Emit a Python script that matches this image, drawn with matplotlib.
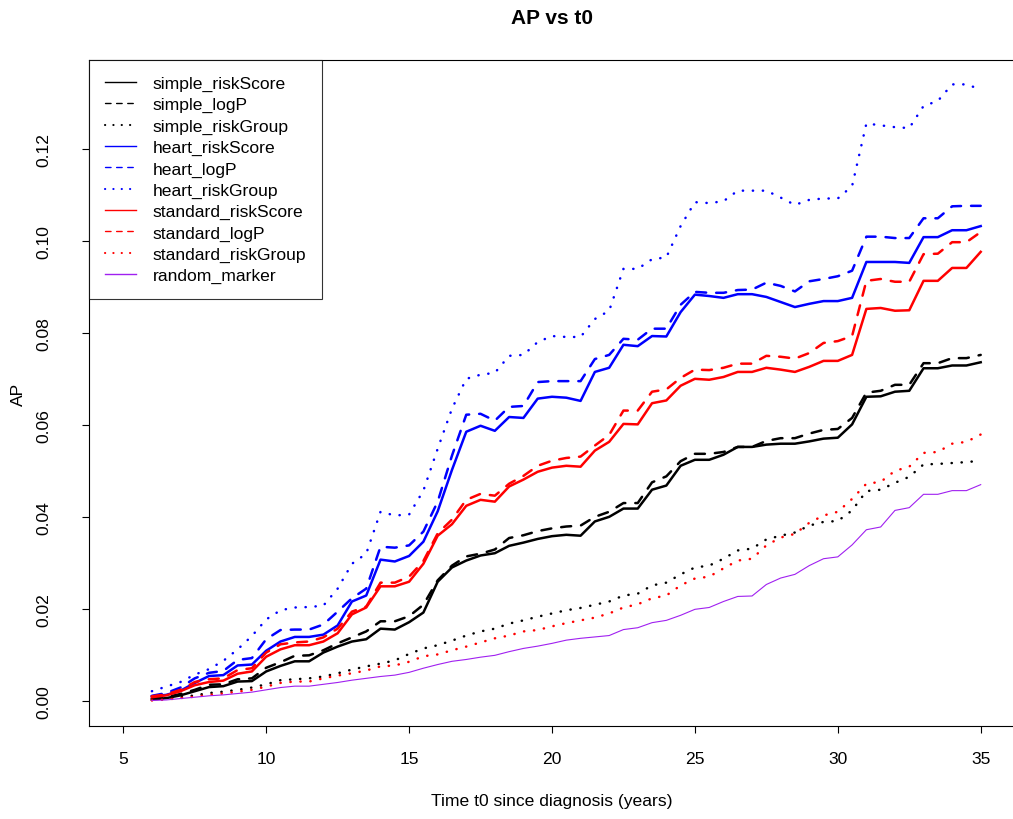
import matplotlib
matplotlib.use("Agg")
import matplotlib.pyplot as plt
from matplotlib.lines import Line2D

plt.rcParams['font.family'] = ['Liberation Sans', 'DejaVu Sans']

# time since diagnosis (years)
t0 = [6.0, 6.5, 7.0, 7.5, 8.0, 8.5, 9.0, 9.5, 10.0, 10.5,
      11.0, 11.5, 12.0, 12.5, 13.0, 13.5, 14.0, 14.5, 15.0, 15.5,
      16.0, 16.5, 17.0, 17.5, 18.0, 18.5, 19.0, 19.5, 20.0, 20.5,
      21.0, 21.5, 22.0, 22.5, 23.0, 23.5, 24.0, 24.5, 25.0, 25.5,
      26.0, 26.5, 27.0, 27.5, 28.0, 28.5, 29.0, 29.5, 30.0, 30.5,
      31.0, 31.5, 32.0, 32.5, 33.0, 33.5, 34.0, 34.5, 35.0]

simple_riskScore = [0.0004, 0.0007, 0.0013, 0.0022, 0.0031, 0.0033, 0.0043, 0.0044, 0.0065, 0.0077,
                    0.0087, 0.0087, 0.0106, 0.0119, 0.0130, 0.0135, 0.0158, 0.0156, 0.0172, 0.0193,
                    0.0260, 0.0291, 0.0306, 0.0317, 0.0322, 0.0338, 0.0345, 0.0353, 0.0359, 0.0362,
                    0.0360, 0.0391, 0.0401, 0.0419, 0.0419, 0.0460, 0.0469, 0.0512, 0.0525, 0.0525,
                    0.0536, 0.0553, 0.0553, 0.0558, 0.0560, 0.0560, 0.0565, 0.0571, 0.0573, 0.0602,
                    0.0662, 0.0663, 0.0673, 0.0675, 0.0724, 0.0724, 0.0730, 0.0730, 0.0737]
simple_logP = [0.0006, 0.0009, 0.0016, 0.0025, 0.0036, 0.0037, 0.0048, 0.0050, 0.0073, 0.0085,
               0.0099, 0.0100, 0.0111, 0.0126, 0.0139, 0.0152, 0.0174, 0.0174, 0.0185, 0.0210,
               0.0263, 0.0295, 0.0315, 0.0321, 0.0330, 0.0355, 0.0361, 0.0370, 0.0376, 0.0380,
               0.0382, 0.0401, 0.0412, 0.0431, 0.0431, 0.0476, 0.0489, 0.0522, 0.0538, 0.0538,
               0.0542, 0.0553, 0.0553, 0.0566, 0.0572, 0.0572, 0.0582, 0.0590, 0.0592, 0.0616,
               0.0671, 0.0675, 0.0688, 0.0688, 0.0735, 0.0735, 0.0746, 0.0746, 0.0753]
simple_riskGroup = [0.0003, 0.0005, 0.0009, 0.0013, 0.0018, 0.0021, 0.0025, 0.0030, 0.0037, 0.0046,
                    0.0048, 0.0050, 0.0054, 0.0061, 0.0069, 0.0076, 0.0082, 0.0089, 0.0103, 0.0115,
                    0.0122, 0.0132, 0.0143, 0.0152, 0.0158, 0.0169, 0.0176, 0.0184, 0.0191, 0.0198,
                    0.0203, 0.0210, 0.0217, 0.0230, 0.0234, 0.0252, 0.0258, 0.0276, 0.0291, 0.0295,
                    0.0310, 0.0328, 0.0332, 0.0352, 0.0360, 0.0367, 0.0382, 0.0390, 0.0392, 0.0415,
                    0.0457, 0.0460, 0.0475, 0.0488, 0.0515, 0.0516, 0.0518, 0.0520, 0.0523]
heart_riskScore = [0.0011, 0.0014, 0.0023, 0.0040, 0.0055, 0.0057, 0.0078, 0.0080, 0.0110, 0.0130,
                   0.0140, 0.0140, 0.0145, 0.0165, 0.0217, 0.0230, 0.0308, 0.0304, 0.0316, 0.0347,
                   0.0413, 0.0503, 0.0586, 0.0599, 0.0588, 0.0618, 0.0616, 0.0658, 0.0662, 0.0660,
                   0.0653, 0.0716, 0.0725, 0.0775, 0.0772, 0.0794, 0.0793, 0.0846, 0.0884, 0.0881,
                   0.0877, 0.0885, 0.0885, 0.0879, 0.0868, 0.0857, 0.0864, 0.0870, 0.0870, 0.0877,
                   0.0955, 0.0955, 0.0955, 0.0953, 0.1009, 0.1009, 0.1024, 0.1024, 0.1033]
heart_logP = [0.0012, 0.0018, 0.0030, 0.0050, 0.0062, 0.0066, 0.0090, 0.0094, 0.0135, 0.0155,
              0.0156, 0.0156, 0.0167, 0.0195, 0.0224, 0.0245, 0.0336, 0.0334, 0.0339, 0.0369,
              0.0434, 0.0534, 0.0623, 0.0625, 0.0610, 0.0640, 0.0642, 0.0694, 0.0696, 0.0696,
              0.0696, 0.0744, 0.0753, 0.0788, 0.0786, 0.0810, 0.0810, 0.0862, 0.0890, 0.0888,
              0.0888, 0.0894, 0.0895, 0.0910, 0.0903, 0.0891, 0.0913, 0.0918, 0.0924, 0.0936,
              0.1010, 0.1010, 0.1007, 0.1007, 0.1050, 0.1050, 0.1076, 0.1077, 0.1077]
heart_riskGroup = [0.0022, 0.0032, 0.0042, 0.0058, 0.0070, 0.0088, 0.0113, 0.0142, 0.0178, 0.0198,
                   0.0204, 0.0205, 0.0208, 0.0245, 0.0299, 0.0321, 0.0412, 0.0404, 0.0406, 0.0458,
                   0.0549, 0.0636, 0.0701, 0.0710, 0.0714, 0.0751, 0.0753, 0.0781, 0.0794, 0.0792,
                   0.0792, 0.0831, 0.0849, 0.0940, 0.0940, 0.0961, 0.0965, 0.1033, 0.1085, 0.1083,
                   0.1087, 0.1110, 0.1110, 0.1110, 0.1095, 0.1079, 0.1090, 0.1093, 0.1093, 0.1120,
                   0.1256, 0.1252, 0.1248, 0.1246, 0.1294, 0.1305, 0.1341, 0.1341, 0.1330]
standard_riskScore = [0.0009, 0.0013, 0.0022, 0.0035, 0.0042, 0.0045, 0.0060, 0.0065, 0.0097, 0.0113,
                      0.0122, 0.0122, 0.0130, 0.0148, 0.0189, 0.0204, 0.0250, 0.0250, 0.0260, 0.0299,
                      0.0360, 0.0385, 0.0425, 0.0438, 0.0434, 0.0467, 0.0482, 0.0499, 0.0508, 0.0512,
                      0.0510, 0.0545, 0.0564, 0.0603, 0.0602, 0.0648, 0.0654, 0.0686, 0.0701, 0.0699,
                      0.0705, 0.0716, 0.0716, 0.0725, 0.0721, 0.0716, 0.0727, 0.0740, 0.0740, 0.0753,
                      0.0853, 0.0855, 0.0849, 0.0850, 0.0914, 0.0914, 0.0942, 0.0942, 0.0977]
standard_logP = [0.0011, 0.0015, 0.0025, 0.0042, 0.0048, 0.0050, 0.0068, 0.0072, 0.0106, 0.0124,
                 0.0128, 0.0130, 0.0139, 0.0158, 0.0195, 0.0206, 0.0258, 0.0258, 0.0271, 0.0305,
                 0.0365, 0.0395, 0.0438, 0.0451, 0.0447, 0.0473, 0.0490, 0.0512, 0.0523, 0.0529,
                 0.0532, 0.0556, 0.0579, 0.0632, 0.0632, 0.0673, 0.0678, 0.0703, 0.0721, 0.0720,
                 0.0725, 0.0734, 0.0734, 0.0751, 0.0749, 0.0745, 0.0757, 0.0779, 0.0783, 0.0794,
                 0.0914, 0.0918, 0.0912, 0.0912, 0.0972, 0.0973, 0.0998, 0.0998, 0.1020]
standard_riskGroup = [0.0002, 0.0004, 0.0007, 0.0010, 0.0014, 0.0017, 0.0021, 0.0025, 0.0032, 0.0040,
                      0.0043, 0.0043, 0.0050, 0.0056, 0.0061, 0.0067, 0.0076, 0.0078, 0.0086, 0.0098,
                      0.0102, 0.0111, 0.0119, 0.0128, 0.0137, 0.0143, 0.0152, 0.0155, 0.0163, 0.0170,
                      0.0176, 0.0182, 0.0191, 0.0204, 0.0211, 0.0224, 0.0230, 0.0252, 0.0267, 0.0271,
                      0.0289, 0.0306, 0.0310, 0.0339, 0.0356, 0.0364, 0.0388, 0.0404, 0.0412, 0.0440,
                      0.0473, 0.0477, 0.0501, 0.0510, 0.0540, 0.0542, 0.0560, 0.0564, 0.0580]
random_marker = [0.0002, 0.0003, 0.0006, 0.0009, 0.0012, 0.0014, 0.0017, 0.0020, 0.0025, 0.0030,
                 0.0033, 0.0033, 0.0037, 0.0041, 0.0046, 0.0050, 0.0054, 0.0057, 0.0063, 0.0072,
                 0.0080, 0.0087, 0.0091, 0.0096, 0.0100, 0.0108, 0.0115, 0.0120, 0.0126, 0.0133,
                 0.0137, 0.0140, 0.0143, 0.0156, 0.0160, 0.0171, 0.0176, 0.0187, 0.0200, 0.0204,
                 0.0217, 0.0228, 0.0229, 0.0254, 0.0268, 0.0276, 0.0295, 0.0310, 0.0314, 0.0340,
                 0.0373, 0.0379, 0.0415, 0.0421, 0.0450, 0.0450, 0.0458, 0.0458, 0.0471]

labels = ['simple_riskScore', 'simple_logP', 'simple_riskGroup',
          'heart_riskScore', 'heart_logP', 'heart_riskGroup',
          'standard_riskScore', 'standard_logP', 'standard_riskGroup',
          'random_marker']
series = [simple_riskScore, simple_logP, simple_riskGroup,
          heart_riskScore, heart_logP, heart_riskGroup,
          standard_riskScore, standard_logP, standard_riskGroup,
          random_marker]
colors = ['black', 'black', 'black', 'blue', 'blue', 'blue',
          'red', 'red', 'red', '#A020F0']

# R style line types: solid, dashed (lty=2), dotted (lty=3)
solid = '-'
dashed = (0, (4, 4))
dotted = (0, (0.1, 3.9))
styles = [solid, dashed, dotted] * 3 + [solid]

fs = 12.6

fig = plt.figure(figsize=(10.13, 8.20), dpi=100)
ax = fig.add_axes([89 / 1013, 93 / 820, 926 / 1013, 666 / 820])

for y, lab, c, ls in zip(series, labels, colors, styles):
    lw = 0.8 if lab == 'random_marker' else 1.8
    ax.plot(t0, y, color=c, linestyle=ls, linewidth=lw,
            dash_capstyle='round', solid_joinstyle='round')

ax.set_xlim(3.8, 36.2)
ax.set_ylim(-0.00536, 0.1394)
ax.set_xticks([5, 10, 15, 20, 25, 30, 35])
ax.set_yticks([0.0, 0.02, 0.04, 0.06, 0.08, 0.10, 0.12])
ax.set_yticklabels(['0.00', '0.02', '0.04', '0.06', '0.08', '0.10', '0.12'],
                   rotation=90, va='center')
ax.tick_params(direction='out', length=5, width=0.8, labelsize=fs)
ax.tick_params(axis='x', pad=13)
ax.tick_params(axis='y', pad=22)
for sp in ax.spines.values():
    sp.set_linewidth(0.8)

fig.text(552 / 1013, 1 - 18 / 820, 'AP vs t0', ha='center', va='center',
         fontsize=15, fontweight='bold')
fig.text(552 / 1013, 1 - 802 / 820, 'Time t0 since diagnosis (years)',
         ha='center', va='center', fontsize=fs)
fig.text(18 / 1013, 1 - 394 / 820, 'AP', ha='center', va='center',
         rotation=90, fontsize=fs)

# thin legend keys; dotted keys drawn a bit heavier so their colour shows
handles = [Line2D([], [], color=c, linestyle=ls,
                  linewidth=1.5 if ls == dotted else 1.0,
                  dash_capstyle='round') for c, ls in zip(colors, styles)]
leg = ax.legend(handles, labels, loc='upper left', bbox_to_anchor=(0, 1),
                borderaxespad=0, fancybox=False, fontsize=fs,
                handlelength=1.8, handletextpad=0.95, labelspacing=0.34,
                borderpad=0.9)
leg.get_frame().set_edgecolor('black')
leg.get_frame().set_linewidth(0.8)

fig.savefig('out.png', dpi=100)
